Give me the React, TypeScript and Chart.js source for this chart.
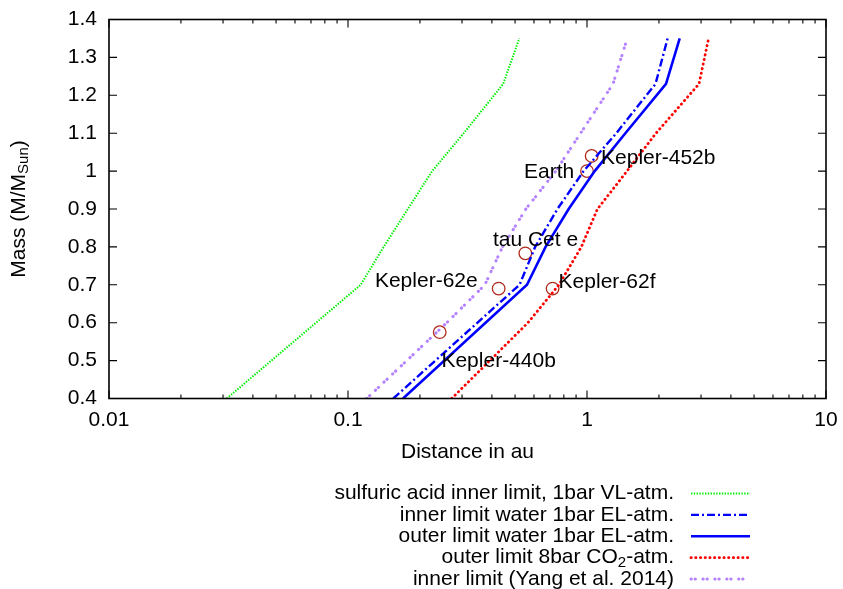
import React, { useEffect, useRef } from 'react';
import { Chart, registerables } from 'chart.js';

Chart.register(...registerables);

// ---------- data ----------
const xTickValues = [0.01, 0.1, 1, 10];
const yTickValues = [0.4, 0.5, 0.6, 0.7, 0.8, 0.9, 1.0, 1.1, 1.2, 1.3, 1.4];

const sulfuricMass = [0.4, 0.7, 0.8, 0.9, 1.0, 1.1, 1.23, 1.35];
const sulfuricDist = [0.0311, 0.113, 0.141, 0.178, 0.225, 0.305, 0.446, 0.521];

const innerWaterMass = [0.4, 0.7, 0.8, 0.9, 1.0, 1.1, 1.23, 1.35];
const innerWaterDist = [0.1547, 0.522, 0.607, 0.752, 0.968, 1.326, 1.935, 2.174];

const outerWaterMass = [0.4, 0.7, 0.8, 0.9, 1.0, 1.1, 1.23, 1.35];
const outerWaterDist = [0.1699, 0.561, 0.671, 0.838, 1.077, 1.447, 2.141, 2.443];

const outerCO2Mass = [0.4, 0.6, 0.7, 0.8, 0.9, 1.0, 1.1, 1.23, 1.35];
const outerCO2Dist = [0.2716, 0.566, 0.763, 0.947, 1.106, 1.47, 1.944, 2.942, 3.227];

const yangMass = [0.4, 0.6, 0.7, 0.8, 0.9, 1.0, 1.1, 1.23, 1.35];
const yangDist = [0.1197, 0.259, 0.374, 0.443, 0.555, 0.74, 0.94, 1.285, 1.474];

const planetNames = ['Kepler-440b', 'Kepler-62e', 'tau Cet e', 'Kepler-62f', 'Earth', 'Kepler-452b'];
const planetDist = [0.242, 0.427, 0.552, 0.718, 1.0, 1.046];
const planetMass = [0.575, 0.69, 0.783, 0.69, 1.0, 1.04];

const seriesLabels = [
  'sulfuric acid inner limit, 1bar VL-atm.',
  'inner limit water 1bar EL-atm.',
  'outer limit water 1bar EL-atm.',
  'outer limit 8bar CO_{2}-atm.',
  'inner limit (Yang et al. 2014)',
];

const xTitle = 'Distance in au';
const yTitle = 'Mass (M/M_{Sun})';

// ---------- styles / placement ----------
const FONT_FAMILY = '"Liberation Sans", Arial, Helvetica, sans-serif';
const FONT = `21px ${FONT_FAMILY}`;
const SUB_FONT = `15px ${FONT_FAMILY}`;
// label placement relative to the marker: [dx, dy, align]
const labelPlacement: [number, number, CanvasTextAlign][] = [
  [1.7, 29.4, 'left'],
  [-21, -7.3, 'right'],
  [-32.4, -13.3, 'left'],
  [6, -6.6, 'left'],
  [-12.7, 0.7, 'right'],
  [9.4, 2.3, 'left'],
];

function parseRich(s: string) {
  const parts: { t: string; sub: boolean }[] = [];
  const re = /_\{([^}]*)\}/g;
  let last = 0;
  let m: RegExpExecArray | null;
  while ((m = re.exec(s))) {
    if (m.index > last) parts.push({ t: s.slice(last, m.index), sub: false });
    parts.push({ t: m[1], sub: true });
    last = re.lastIndex;
  }
  if (last < s.length) parts.push({ t: s.slice(last), sub: false });
  return parts;
}

function drawRich(ctx: CanvasRenderingContext2D, s: string, x: number, y: number, align: string) {
  const parts = parseRich(s);
  const widths = parts.map((p) => {
    ctx.font = p.sub ? SUB_FONT : FONT;
    return ctx.measureText(p.t).width;
  });
  const total = widths.reduce((a, b) => a + b, 0);
  let cx = align === 'right' ? x - total : align === 'center' ? x - total / 2 : x;
  ctx.textAlign = 'left';
  ctx.textBaseline = 'middle';
  parts.forEach((p, i) => {
    ctx.font = p.sub ? SUB_FONT : FONT;
    ctx.fillText(p.t, cx, p.sub ? y + 5 : y);
    cx += widths[i];
  });
}

const zip = (xs: number[], ys: number[]) => xs.map((x, i) => ({ x, y: ys[i] }));

const decorPlugin = {
  id: 'decor',
  afterDatasetsDraw(chart: any) {
    const ctx: CanvasRenderingContext2D = chart.ctx;
    const { left, right, top, bottom } = chart.chartArea;
    const xs = chart.scales.x;
    const ys = chart.scales.y;
    ctx.save();
    // planet labels
    ctx.fillStyle = '#000';
    planetNames.forEach((name, i) => {
      const px = xs.getPixelForValue(planetDist[i]);
      const py = ys.getPixelForValue(planetMass[i]);
      const [dx, dy, al] = labelPlacement[i];
      drawRich(ctx, name, px + dx, py + dy, al);
    });
    // frame
    ctx.setLineDash([]);
    ctx.lineCap = 'butt';
    ctx.strokeStyle = '#000';
    ctx.lineWidth = 1.6;
    ctx.strokeRect(left, top, right - left, bottom - top);
    // ticks
    ctx.lineWidth = 1.1;
    ctx.beginPath();
    const major = 8;
    const minor = 4;
    xTickValues.forEach((v) => {
      const p = xs.getPixelForValue(v);
      ctx.moveTo(p, bottom);
      ctx.lineTo(p, bottom - major);
      ctx.moveTo(p, top);
      ctx.lineTo(p, top + major);
    });
    for (let d = 0; d < xTickValues.length - 1; d++) {
      for (let k = 2; k <= 9; k++) {
        const v = xTickValues[d] * k;
        const p = xs.getPixelForValue(v);
        ctx.moveTo(p, bottom);
        ctx.lineTo(p, bottom - minor);
        ctx.moveTo(p, top);
        ctx.lineTo(p, top + minor);
      }
    }
    yTickValues.forEach((v) => {
      const p = ys.getPixelForValue(v);
      ctx.moveTo(left, p);
      ctx.lineTo(left + major, p);
      ctx.moveTo(right, p);
      ctx.lineTo(right - major, p);
    });
    ctx.stroke();
    // axis titles
    ctx.fillStyle = '#000';
    drawRich(ctx, xTitle, (left + right) / 2, 452, 'center');
    ctx.save();
    ctx.translate(19, (top + bottom) / 2);
    ctx.rotate(-Math.PI / 2);
    drawRich(ctx, yTitle, 0, 0, 'center');
    ctx.restore();
    // legend
    const lines = chart.data.datasets.filter((d: any) => d.isCurve);
    lines.forEach((ds: any, i: number) => {
      const y = 493.5 + i * 21.4;
      ctx.fillStyle = '#000';
      drawRich(ctx, ds.label, 674, y, 'right');
      ctx.beginPath();
      ctx.setLineDash(ds.borderDash || []);
      ctx.lineCap = ds.borderCapStyle || 'butt';
      ctx.strokeStyle = ds.borderColor;
      ctx.lineWidth = ds.borderWidth;
      ctx.moveTo(691, y);
      ctx.lineTo(750, y);
      ctx.stroke();
    });
    ctx.restore();
  },
};

export default function App() {
  const ref = useRef<HTMLCanvasElement>(null);
  useEffect(() => {
    document.body.style.margin = '0';
    if (!ref.current) return;
    const curve = (
      label: string,
      xs: number[],
      ys: number[],
      color: string,
      width: number,
      dash: number[],
      cap: CanvasLineCap
    ) => ({
      type: 'line' as const,
      label,
      isCurve: true,
      data: zip(xs, ys),
      borderColor: color,
      backgroundColor: color,
      borderWidth: width,
      borderDash: dash,
      borderCapStyle: cap,
      pointRadius: 0,
      tension: 0,
      fill: false,
    });
    const chart = new Chart(ref.current, {
      type: 'line',
      data: {
        datasets: [
          curve(seriesLabels[0], sulfuricDist, sulfuricMass, '#00ee00', 2, [1.4, 1.4], 'butt'),
          curve(seriesLabels[1], innerWaterDist, innerWaterMass, '#0000ff', 2.4, [8, 3, 2, 3], 'butt'),
          curve(seriesLabels[2], outerWaterDist, outerWaterMass, '#0000ff', 2.6, [], 'butt'),
          curve(seriesLabels[3], outerCO2Dist, outerCO2Mass, '#ff0000', 2.8, [0.3, 4.4], 'round'),
          curve(seriesLabels[4], yangDist, yangMass, 'rgb(180,130,255)', 3, [0.3, 3.8, 0.3, 7.5], 'round'),
          {
            type: 'scatter' as const,
            label: 'planets',
            data: zip(planetDist, planetMass),
            showLine: false,
            pointStyle: 'circle',
            pointRadius: 6.3,
            pointBorderWidth: 1.3,
            borderColor: '#b02a1e',
            backgroundColor: 'rgba(0,0,0,0)',
            pointBackgroundColor: 'rgba(0,0,0,0)',
            pointBorderColor: '#b02a1e',
          } as any,
        ] as any,
      },
      options: {
        responsive: false,
        animation: false,
        events: [],
        layout: { padding: { left: 0, right: 17, top: 19.5, bottom: 0 } },
        plugins: { legend: { display: false }, tooltip: { enabled: false } },
        scales: {
          x: {
            type: 'logarithmic',
            min: 0.01,
            max: 10,
            grid: { display: false, drawTicks: false },
            border: { display: false },
            afterBuildTicks: (s: any) => {
              s.ticks = xTickValues.map((v) => ({ value: v }));
            },
            afterFit: (s: any) => {
              s.height = 190.5;
              s.paddingLeft = 0;
              s.paddingRight = 0;
            },
            ticks: {
              autoSkip: false,
              maxRotation: 0,
              padding: 9,
              color: '#000',
              font: { family: FONT_FAMILY, size: 21 },
              callback: (v: any) => String(v),
            },
          },
          y: {
            type: 'linear',
            min: 0.4,
            max: 1.4,
            grid: { display: false, drawTicks: false },
            border: { display: false },
            afterBuildTicks: (s: any) => {
              s.ticks = yTickValues.map((v) => ({ value: v }));
            },
            afterFit: (s: any) => {
              s.width = 109;
              s.paddingTop = 0;
              s.paddingBottom = 0;
            },
            ticks: {
              autoSkip: false,
              padding: 12,
              color: '#000',
              font: { family: FONT_FAMILY, size: 21 },
              callback: (v: any) => String(Math.round(Number(v) * 10) / 10),
            },
          },
        },
      } as any,
      plugins: [decorPlugin],
    });
    return () => chart.destroy();
  }, []);
  return (
    <div style={{ width: 843, height: 589 }}>
      <canvas ref={ref} width={843} height={589} style={{ display: 'block' }} />
    </div>
  );
}
